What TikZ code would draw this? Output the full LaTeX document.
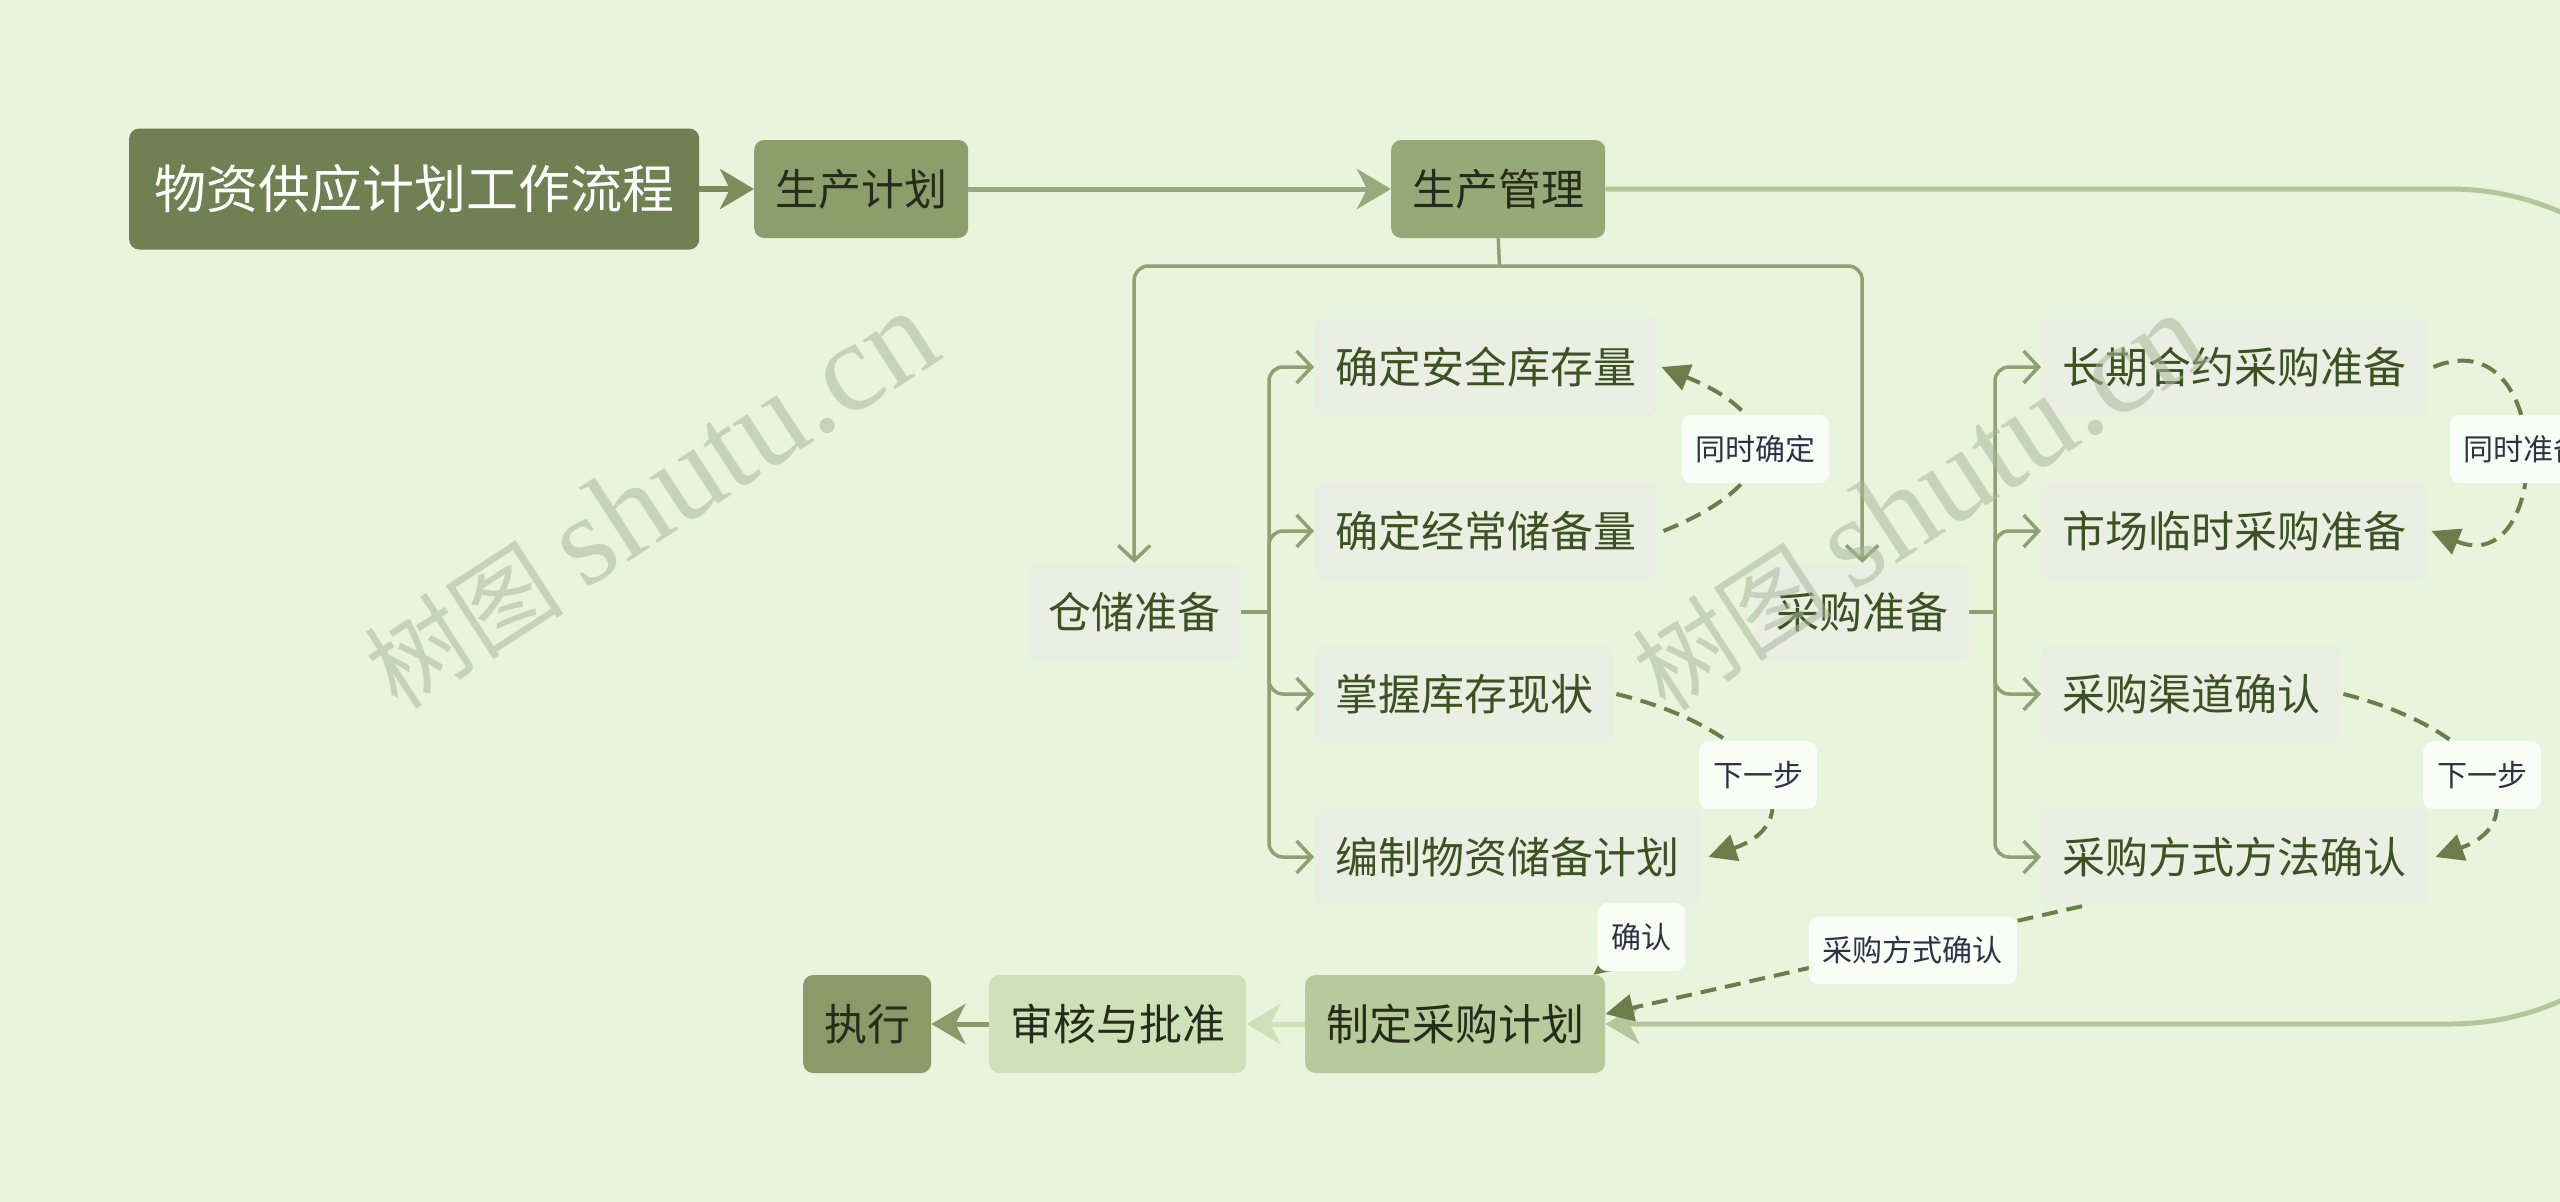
\documentclass[tikz,border=0pt]{standalone}
\usepackage{fontspec}
\setmainfont{Noto Sans CJK SC}
\newfontfamily\wmlat{Liberation Serif}
\usetikzlibrary{arrows.meta}
\definecolor{bgc}{HTML}{E8F5DC}
\definecolor{rootfill}{HTML}{718052}
\definecolor{rootline}{HTML}{7C8C5A}
\definecolor{midfill}{HTML}{8D9E6D}
\definecolor{mgmtfill}{HTML}{96A979}
\definecolor{mainline}{HTML}{97AA7C}
\definecolor{leaffill}{HTML}{EAEEE3}
\definecolor{leaftext}{HTML}{3D5222}
\definecolor{darktext}{HTML}{262C1A}
\definecolor{treeline}{HTML}{8FA072}
\definecolor{dashc}{HTML}{6C7D4A}
\definecolor{lblfill}{HTML}{FAFCF6}
\definecolor{lbltext}{HTML}{2C3345}
\definecolor{planfill}{HTML}{B6CA9B}
\definecolor{loopc}{HTML}{B4C79A}
\definecolor{reviewfill}{HTML}{CFE1B9}
\definecolor{execfill}{HTML}{8A9A68}
\definecolor{wmc}{HTML}{A9B89B}
\tikzset{
  box/.style={rounded corners=10pt, minimum height=98pt, inner xsep=21pt, inner ysep=0pt,
    font=\fontsize{43}{50}\selectfont, anchor=west},
  leaf/.style={box, fill=leaffill, text=leaftext},
  topbox/.style={box, text=darktext},
  lbl/.style={rounded corners=10pt, fill=lblfill, text=lbltext, minimum height=68pt,
    inner xsep=14pt, inner ysep=0pt, font=\fontsize{30}{36}\selectfont},
  tree/.style={draw=treeline, line width=3.5pt, rounded corners=14pt,
    -{Straight Barb[length=15pt,width=32pt,line width=3.5pt]}},
  treeplain/.style={draw=treeline, line width=3.5pt, rounded corners=14pt},
  dashconn/.style={draw=dashc, line width=4pt, dash pattern=on 16pt off 9pt,
    -{Triangle[length=28pt,width=27pt]}},
  mainarrow/.style={line width=5pt, -{Stealth[length=34pt,width=40pt,inset=10pt]}},
  wm/.style={text=wmc, opacity=0.55, font=\fontsize{100}{120}\selectfont}
}
\begin{document}
\begin{tikzpicture}[x=1pt,y=-1pt]
\useasboundingbox (0,0) rectangle (2560,1202);
\clip (0,0) rectangle (2560,1202);
\fill[bgc] (0,0) rectangle (2560,1202);

% top row
\node[box, fill=rootfill, text=white, minimum height=121pt, inner xsep=25pt,
      font=\fontsize{52}{60}\selectfont] (root) at (129,189) {物资供应计划工作流程};
\node[topbox, fill=midfill] (prodplan) at (754,189) {生产计划};
\node[topbox, fill=mgmtfill] (mgmt) at (1391,189) {生产管理};

% second level
\node[leaf] (store) at (1027,612) {仓储准备};
\node[leaf] (purch) at (1755,612) {采购准备};

% storage children
\node[leaf] (s1) at (1314,367) {确定安全库存量};
\node[leaf] (s2) at (1314,531) {确定经常储备量};
\node[leaf] (s3) at (1314,694) {掌握库存现状};
\node[leaf] (s4) at (1314,857) {编制物资储备计划};

% purchase children
\node[leaf] (p1) at (2041,367) {长期合约采购准备};
\node[leaf] (p2) at (2041,531) {市场临时采购准备};
\node[leaf] (p3) at (2041,694) {采购渠道确认};
\node[leaf] (p4) at (2041,857) {采购方式方法确认};

% bottom row
\node[topbox, fill=planfill] (plan) at (1305,1024) {制定采购计划};
\node[topbox, fill=reviewfill] (review) at (989,1024) {审核与批准};
\node[topbox, fill=execfill] (exec) at (803,1024) {执行};

% main arrows
\draw[mainarrow, draw=rootline, fill=rootline, line width=6pt] (root.east) -- (prodplan.west);
\draw[mainarrow, draw=mainline, fill=mainline] (prodplan.east) -- (mgmt.west);
\draw[line width=5pt, draw=loopc, rounded corners=275pt,
      -{Stealth[length=34pt,width=40pt,inset=10pt]}]
      (mgmt.east) -- (2725,189) -- (2725,1024) -- (plan.east);
\draw[mainarrow, draw=reviewfill, fill=reviewfill] (plan.west) -- (review.east);
\draw[mainarrow, draw=execfill, fill=execfill] (review.west) -- (exec.east);

% management split
\coordinate (jt) at (1499.5,266);
\draw[treeplain, rounded corners=0pt] (mgmt.south) -- (jt);
\draw[tree] (jt) -| (store.north);
\draw[tree] (jt) -| (purch.north);

% storage bracket
\coordinate (js) at (1269,612);
\draw[treeplain] (store.east) -- (js);
\foreach \c in {s1,s2,s3,s4} \draw[tree] (js) |- (\c.west);

% purchase bracket
\coordinate (jp) at (1995,612);
\draw[treeplain] (purch.east) -- (jp);
\foreach \c in {p1,p2,p3,p4} \draw[tree] (jp) |- (\c.west);

% dashed relations
\draw[dashconn] ([xshift=6pt]s2.east) .. controls +(124,-50) and +(124,50) ..
   node[lbl, pos=0.5] (l1) {同时确定} ([xshift=4pt]s1.east);
\draw[dashconn] ([xshift=2pt]s3.east) .. controls (1765,730) and (1815,820) ..
   node[lbl, pos=0.5] (l2) {下一步} ([xshift=8pt]s4.east);
\draw[dashconn] ([xshift=-20pt]s4.south east) --
   node[lbl, pos=0.45] (l3) {确认} ([xshift=-12pt]plan.north east);
\draw[dashconn] ([xshift=6pt]p1.east) .. controls +(122,-50) and +(122,50) ..
   node[lbl, pos=0.5] (l4) {同时准备} ([xshift=4pt]p2.east);
\draw[dashconn] ([xshift=2pt]p3.east) .. controls (2488,730) and (2538,820) ..
   node[lbl, pos=0.5] (l5) {下一步} ([xshift=8pt]p4.east);
\draw[dashconn] ([xshift=41pt]p4.south west) --
   node[lbl, pos=0.355, yshift=-6pt] (l6) {采购方式确认} ([yshift=10pt]plan.east);

% watermarks
\node[wm, rotate=33] (wm1) at (650,500) {树图 {\wmlat\fontsize{128}{130}\selectfont shutu.cn}};
\node[wm, rotate=33] (wm2) at (1918,502) {树图 {\wmlat\fontsize{128}{130}\selectfont shutu.cn}};
\end{tikzpicture}
\end{document}
